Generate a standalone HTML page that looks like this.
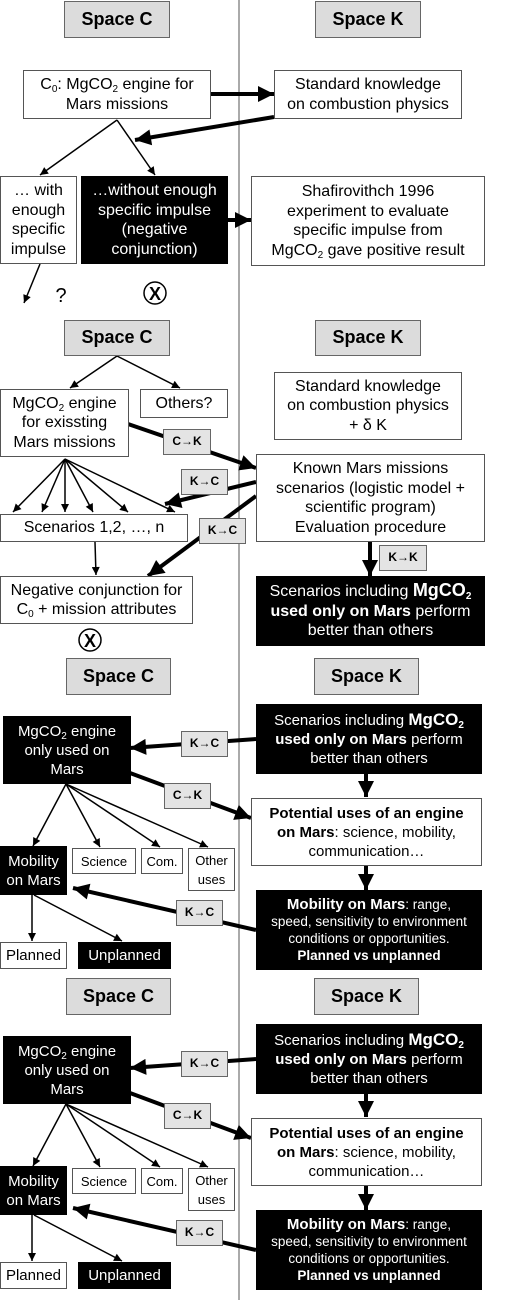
<!DOCTYPE html>
<html><head><meta charset="utf-8"><style>
body{margin:0;width:520px;height:1309px;position:relative;background:#fff;font-family:"Liberation Sans",sans-serif;overflow:hidden}
.b{position:absolute;box-sizing:border-box;border:1px solid #555;background:#fff;color:#000;display:flex;align-items:center;justify-content:center;text-align:center;font-size:16px;line-height:19.5px;white-space:nowrap}
.k{background:#000;color:#fff;border-color:#000}
.h{background:#dcdcdc;font-weight:bold;font-size:18px;border-color:#666}
.l{background:#e4e4e4;font-weight:bold;font-size:12px;border-color:#666}
.s{font-size:15px;line-height:19px}
sub{font-size:10px;vertical-align:-3px;line-height:0}
svg{position:absolute;left:0;top:0}
</style></head><body>
<svg width="520" height="1309">
<defs>
<marker id="B" viewBox="0 0 10 10" refX="10" refY="5" markerUnits="userSpaceOnUse" markerWidth="18" markerHeight="16" orient="auto"><path d="M0,0L10,5L0,10z"/></marker>
<marker id="S" viewBox="0 0 10 10" refX="10" refY="5" markerUnits="userSpaceOnUse" markerWidth="9" markerHeight="8" orient="auto"><path d="M0,0L10,5L0,10z"/></marker>
</defs>
<line x1="239" y1="0" x2="239" y2="1300" stroke="#555" stroke-width="1"/>
<g stroke="#000" fill="none">
<line x1="210" y1="94" x2="274" y2="94" stroke-width="4" marker-end="url(#B)"/>
<line x1="274" y1="117" x2="135" y2="140" stroke-width="4" marker-end="url(#B)"/>
<line x1="117" y1="120" x2="40" y2="175" stroke-width="1.5" marker-end="url(#S)"/>
<line x1="117" y1="120" x2="155" y2="175" stroke-width="1.5" marker-end="url(#S)"/>
<line x1="227" y1="220" x2="251" y2="220" stroke-width="4" marker-end="url(#B)"/>
<line x1="40" y1="264" x2="24" y2="303" stroke-width="1.5" marker-end="url(#S)"/>
<circle cx="155" cy="293" r="11" stroke-width="1.5"/>
<circle cx="90" cy="640" r="11" stroke-width="1.5"/>
<line x1="117" y1="356" x2="70" y2="388" stroke-width="1.5" marker-end="url(#S)"/>
<line x1="117" y1="356" x2="180" y2="388" stroke-width="1.5" marker-end="url(#S)"/>
<line x1="128" y1="424" x2="256" y2="468" stroke-width="4" marker-end="url(#B)"/>
<line x1="256" y1="482" x2="165" y2="504" stroke-width="4" marker-end="url(#B)"/>
<line x1="256" y1="496" x2="148" y2="576" stroke-width="4" marker-end="url(#B)"/>
<g stroke-width="1.5" marker-end="url(#S)">
<line x1="65" y1="459" x2="13" y2="512"/><line x1="65" y1="459" x2="42" y2="512"/>
<line x1="65" y1="459" x2="65" y2="512"/><line x1="65" y1="459" x2="93" y2="512"/>
<line x1="65" y1="459" x2="128" y2="512"/><line x1="65" y1="459" x2="175" y2="512"/>
<line x1="95" y1="542" x2="96" y2="575"/>
</g>
<line x1="370" y1="541" x2="370" y2="576" stroke-width="4" marker-end="url(#B)"/>
<g>
<line x1="256" y1="739" x2="130" y2="748" stroke-width="4" marker-end="url(#B)"/>
<line x1="130" y1="773" x2="251" y2="818" stroke-width="4" marker-end="url(#B)"/>
<line x1="366" y1="773" x2="366" y2="797" stroke-width="4" marker-end="url(#B)"/>
<line x1="366" y1="865" x2="366" y2="890" stroke-width="4" marker-end="url(#B)"/>
<line x1="256" y1="930" x2="73" y2="888" stroke-width="4" marker-end="url(#B)"/>
<g stroke-width="1.5" marker-end="url(#S)">
<line x1="66" y1="784" x2="33" y2="846"/><line x1="66" y1="784" x2="100" y2="847"/>
<line x1="66" y1="784" x2="160" y2="847"/><line x1="66" y1="784" x2="208" y2="847"/>
<line x1="32" y1="895" x2="32" y2="941"/><line x1="34" y1="895" x2="122" y2="941"/>
</g>
</g>
<g transform="translate(0,320)">
<line x1="256" y1="739" x2="130" y2="748" stroke-width="4" marker-end="url(#B)"/>
<line x1="130" y1="773" x2="251" y2="818" stroke-width="4" marker-end="url(#B)"/>
<line x1="366" y1="773" x2="366" y2="797" stroke-width="4" marker-end="url(#B)"/>
<line x1="366" y1="865" x2="366" y2="890" stroke-width="4" marker-end="url(#B)"/>
<line x1="256" y1="930" x2="73" y2="888" stroke-width="4" marker-end="url(#B)"/>
<g stroke-width="1.5" marker-end="url(#S)">
<line x1="66" y1="784" x2="33" y2="846"/><line x1="66" y1="784" x2="100" y2="847"/>
<line x1="66" y1="784" x2="160" y2="847"/><line x1="66" y1="784" x2="208" y2="847"/>
<line x1="32" y1="895" x2="32" y2="941"/><line x1="34" y1="895" x2="122" y2="941"/>
</g>
</g>
</g>
<text x="155" y="300" font-family="Liberation Sans" font-weight="bold" font-size="18" text-anchor="middle">X</text>
<text x="90" y="647" font-family="Liberation Sans" font-weight="bold" font-size="18" text-anchor="middle">X</text>
<text x="61" y="302" font-family="Liberation Sans" font-size="20" text-anchor="middle">?</text>
</svg>

<div class="b h" style="left:64px;top:1px;width:106px;height:37px"><span>Space C</span></div>
<div class="b h" style="left:315px;top:1px;width:106px;height:37px"><span>Space K</span></div>
<div class="b" style="left:23px;top:70px;width:188px;height:49px"><span>C<sub>0</sub>: MgCO<sub>2</sub> engine for<br>Mars missions</span></div>
<div class="b" style="left:274px;top:70px;width:188px;height:49px"><span>Standard knowledge<br>on combustion physics</span></div>
<div class="b" style="left:0;top:176px;width:77px;height:88px"><span>… with<br>enough<br>specific<br>impulse</span></div>
<div class="b k" style="left:81px;top:176px;width:147px;height:88px"><span>…without enough<br>specific impulse<br>(negative<br>conjunction)</span></div>
<div class="b" style="left:251px;top:176px;width:234px;height:90px"><span>Shafirovithch 1996<br>experiment to evaluate<br>specific impulse from<br>MgCO<sub>2</sub> gave positive result</span></div>

<div class="b h" style="left:64px;top:320px;width:106px;height:36px"><span>Space C</span></div>
<div class="b h" style="left:315px;top:320px;width:106px;height:36px"><span>Space K</span></div>
<div class="b" style="left:0;top:389px;width:129px;height:68px"><span>MgCO<sub>2</sub> engine<br>for exissting<br>Mars missions</span></div>
<div class="b" style="left:140px;top:389px;width:88px;height:29px"><span>Others?</span></div>
<div class="b" style="left:274px;top:372px;width:188px;height:68px"><span>Standard knowledge<br>on combustion physics<br>+ δ K</span></div>
<div class="b" style="left:256px;top:454px;width:229px;height:88px"><span>Known Mars missions<br>scenarios (logistic model +<br>scientific program)<br>Evaluation procedure</span></div>
<div class="b" style="left:0;top:514px;width:188px;height:28px"><span>Scenarios 1,2, …, n</span></div>
<div class="b" style="left:0;top:576px;width:193px;height:48px"><span>Negative conjunction for<br>C<sub>0</sub> + mission attributes</span></div>
<div class="b k" style="left:256px;top:576px;width:229px;height:70px"><span>Scenarios including <b style="font-size:18px">MgCO<sub>2</sub></b><br><b>used only on Mars</b> perform<br>better than others</span></div>
<div class="b l" style="left:163px;top:429px;width:48px;height:26px"><span>C→K</span></div>
<div class="b l" style="left:181px;top:469px;width:47px;height:26px"><span>K→C</span></div>
<div class="b l" style="left:199px;top:518px;width:47px;height:26px"><span>K→C</span></div>
<div class="b l" style="left:379px;top:545px;width:48px;height:26px"><span>K→K</span></div>

<div class="b h" style="left:66px;top:658px;width:105px;height:37px"><span>Space C</span></div>
<div class="b h" style="left:314px;top:658px;width:105px;height:37px"><span>Space K</span></div>
<div class="b k s" style="left:3px;top:716px;width:128px;height:68px"><span>MgCO<sub>2</sub> engine<br>only used on<br>Mars</span></div>
<div class="b k s" style="left:256px;top:704px;width:226px;height:70px"><span>Scenarios including <b style="font-size:17px">MgCO<sub>2</sub></b><br><b>used only on Mars</b> perform<br>better than others</span></div>
<div class="b s" style="left:251px;top:798px;width:231px;height:68px"><span><b>Potential uses of an engine<br>on Mars</b>: science, mobility,<br>communication…</span></div>
<div class="b k s" style="left:256px;top:890px;width:226px;height:80px;font-size:13.5px;line-height:17px"><span><b style="font-size:15px">Mobility on Mars</b>: range,<br>speed, sensitivity to environment<br>conditions or opportunities.<br><b>Planned vs unplanned</b></span></div>
<div class="b k s" style="left:0;top:846px;width:67px;height:49px"><span>Mobility<br>on Mars</span></div>
<div class="b s" style="left:72px;top:848px;width:64px;height:26px;font-size:13px"><span>Science</span></div>
<div class="b s" style="left:141px;top:848px;width:42px;height:26px;font-size:13px"><span>Com.</span></div>
<div class="b s" style="left:188px;top:848px;width:47px;height:43px;font-size:13px"><span>Other<br>uses</span></div>
<div class="b s" style="left:0;top:942px;width:67px;height:27px"><span>Planned</span></div>
<div class="b k s" style="left:78px;top:942px;width:93px;height:27px"><span>Unplanned</span></div>
<div class="b l" style="left:181px;top:731px;width:47px;height:26px"><span>K→C</span></div>
<div class="b l" style="left:164px;top:783px;width:47px;height:26px"><span>C→K</span></div>
<div class="b l" style="left:176px;top:900px;width:47px;height:26px"><span>K→C</span></div>

<div class="b h" style="left:66px;top:978px;width:105px;height:37px"><span>Space C</span></div>
<div class="b h" style="left:314px;top:978px;width:105px;height:37px"><span>Space K</span></div>
<div class="b k s" style="left:3px;top:1036px;width:128px;height:68px"><span>MgCO<sub>2</sub> engine<br>only used on<br>Mars</span></div>
<div class="b k s" style="left:256px;top:1024px;width:226px;height:70px"><span>Scenarios including <b style="font-size:17px">MgCO<sub>2</sub></b><br><b>used only on Mars</b> perform<br>better than others</span></div>
<div class="b s" style="left:251px;top:1118px;width:231px;height:68px"><span><b>Potential uses of an engine<br>on Mars</b>: science, mobility,<br>communication…</span></div>
<div class="b k s" style="left:256px;top:1210px;width:226px;height:80px;font-size:13.5px;line-height:17px"><span><b style="font-size:15px">Mobility on Mars</b>: range,<br>speed, sensitivity to environment<br>conditions or opportunities.<br><b>Planned vs unplanned</b></span></div>
<div class="b k s" style="left:0;top:1166px;width:67px;height:49px"><span>Mobility<br>on Mars</span></div>
<div class="b s" style="left:72px;top:1168px;width:64px;height:26px;font-size:13px"><span>Science</span></div>
<div class="b s" style="left:141px;top:1168px;width:42px;height:26px;font-size:13px"><span>Com.</span></div>
<div class="b s" style="left:188px;top:1168px;width:47px;height:43px;font-size:13px"><span>Other<br>uses</span></div>
<div class="b s" style="left:0;top:1262px;width:67px;height:27px"><span>Planned</span></div>
<div class="b k s" style="left:78px;top:1262px;width:93px;height:27px"><span>Unplanned</span></div>
<div class="b l" style="left:181px;top:1051px;width:47px;height:26px"><span>K→C</span></div>
<div class="b l" style="left:164px;top:1103px;width:47px;height:26px"><span>C→K</span></div>
<div class="b l" style="left:176px;top:1220px;width:47px;height:26px"><span>K→C</span></div>
</body></html>
